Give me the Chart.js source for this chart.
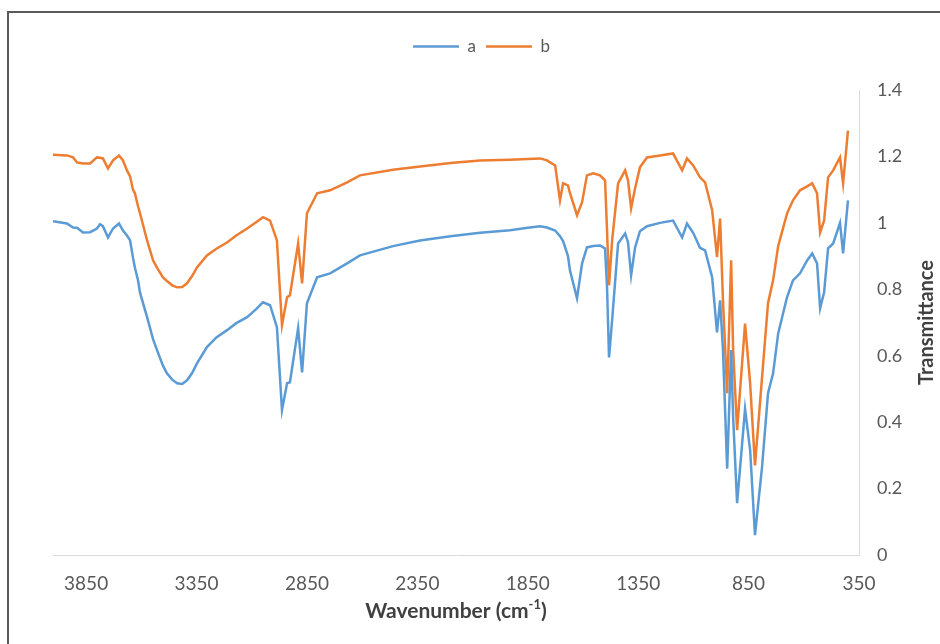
<!DOCTYPE html>
<html>
<head>
<meta charset="utf-8">
<script src="https://cdn.jsdelivr.net/npm/chart.js@4.4.1/dist/chart.umd.min.js"></script>
<style>
  html, body { margin: 0; padding: 0; background: #fff; overflow: hidden; }
  #frame { position: absolute; left: 7px; top: 11px; width: 2000px; height: 2000px; border: 2px solid #595959; }
  #wrap { position: absolute; left: 0; top: 0; width: 940px; height: 644px; }
</style>
</head>
<body>
<div id="frame"></div>
<div id="wrap"><canvas id="ftir" width="940" height="644"></canvas></div>
<script>
// wavenumber (cm-1) for every sample point
const wavenumbers = [
  4000, 3937, 3909, 3891, 3864, 3832, 3801, 3787, 3774, 3751,
  3728, 3701, 3683, 3665, 3651, 3638, 3629, 3615, 3606, 3574,
  3547, 3529, 3502, 3484, 3460, 3438, 3415, 3393, 3370, 3348,
  3303, 3260, 3212, 3170, 3121, 3080, 3049, 3017, 2986, 2963,
  2940, 2927, 2890, 2872, 2850, 2804, 2745, 2668, 2610, 2460,
  2338, 2200, 2066, 1930, 1850, 1794, 1763, 1726, 1704, 1690,
  1668, 1659, 1627, 1604, 1582, 1554, 1523, 1500, 1491, 1482,
  1468, 1441, 1409, 1396, 1382, 1364, 1342, 1310, 1251, 1192,
  1151, 1129, 1101, 1070, 1047, 1015, 993, 979, 966, 947,
  929, 920, 902, 866, 843, 821, 789, 762, 739, 716,
  676, 649, 617, 585, 562, 540, 526, 508, 490, 467,
  436, 422, 400
];

// series a (blue)
const seriesA = [
  1.005, 0.998, 0.986, 0.985, 0.971, 0.972, 0.983, 0.996, 0.99, 0.956,
  0.983, 0.998, 0.977, 0.962, 0.947, 0.896, 0.865, 0.827, 0.79, 0.716,
  0.65, 0.617, 0.57, 0.547, 0.528, 0.517, 0.515, 0.526, 0.548, 0.577,
  0.626, 0.655, 0.677, 0.698, 0.716, 0.74, 0.761, 0.752, 0.686, 0.436,
  0.517, 0.52, 0.683, 0.55, 0.758, 0.836, 0.848, 0.878, 0.902, 0.93,
  0.947, 0.96, 0.97, 0.978, 0.985, 0.99, 0.986, 0.977, 0.96, 0.945,
  0.9, 0.857, 0.773, 0.878, 0.926, 0.93, 0.932, 0.923, 0.806, 0.595,
  0.707, 0.938, 0.968, 0.941, 0.842, 0.926, 0.975, 0.99, 1.0, 1.007,
  0.956, 0.998, 0.97, 0.925, 0.917, 0.836, 0.67, 0.767, 0.617, 0.26,
  0.617, 0.415, 0.156, 0.44, 0.316, 0.06, 0.265, 0.487, 0.547, 0.667,
  0.776, 0.827, 0.848, 0.887, 0.908, 0.878, 0.743, 0.791, 0.923, 0.938,
  1.0, 0.908, 1.068
];

// series b (orange)
const seriesB = [
  1.205, 1.203, 1.197, 1.182, 1.179, 1.179, 1.197, 1.196, 1.194, 1.164,
  1.188, 1.203, 1.188, 1.158, 1.14, 1.10, 1.089, 1.05, 1.029, 0.947,
  0.887, 0.865, 0.836, 0.825, 0.812, 0.806, 0.807, 0.818, 0.84, 0.866,
  0.902, 0.922, 0.941, 0.962, 0.983, 1.002, 1.017, 1.007, 0.947, 0.692,
  0.776, 0.782, 0.938, 0.818, 1.029, 1.089, 1.098, 1.122, 1.143, 1.16,
  1.17, 1.18, 1.188, 1.19, 1.192, 1.194, 1.188, 1.173, 1.068, 1.119,
  1.113, 1.09, 1.023, 1.062, 1.143, 1.149, 1.143, 1.128, 0.977, 0.812,
  0.947, 1.119, 1.158, 1.128, 1.044, 1.104, 1.167, 1.197, 1.203, 1.209,
  1.158, 1.194, 1.173, 1.137, 1.122, 1.038, 0.897, 1.013, 0.767, 0.487,
  0.887, 0.617, 0.376, 0.697, 0.517, 0.27, 0.535, 0.758, 0.827, 0.93,
  1.028, 1.068, 1.098, 1.11, 1.119, 1.089, 0.971, 1.007, 1.137, 1.158,
  1.197, 1.119, 1.278
];

const xTickValues = [3850, 3350, 2850, 2350, 1850, 1350, 850, 350];
const yTickValues = [0, 0.2, 0.4, 0.6, 0.8, 1, 1.2, 1.4];

const toPoints = (ys) => wavenumbers.map((x, i) => ({ x: x, y: ys[i] }));

Chart.defaults.font.family = 'Lato, sans-serif';
Chart.defaults.color = '#595959';

// push the plot down below the legend, and pull the legend a bit left
const legendSpacer = {
  id: 'legendSpacer',
  beforeInit(chart) {
    const fit = chart.legend.fit;
    chart.legend.fit = function () {
      fit.bind(chart.legend)();
      this.height += 25;
    };
  },
  afterLayout(chart) {
    chart.legend.left = 23;
    chart.legend.adjustHitBoxes();
  }
};

// axis titles drawn by hand (y title reads bottom to top, cm-1 superscript)
const axisTitles = {
  id: 'axisTitles',
  afterDraw(chart) {
    const { ctx, chartArea } = chart;
    ctx.save();
    ctx.fillStyle = '#404040';
    ctx.textBaseline = 'middle';

    const big = 'bold 21px Lato, sans-serif';
    const small = 'bold 13px Lato, sans-serif';
    const pre = 'Wavenumber (cm';
    const sup = '-1';
    const post = ')';
    ctx.font = big;
    const w1 = ctx.measureText(pre).width;
    const w3 = ctx.measureText(post).width;
    ctx.font = small;
    const w2 = ctx.measureText(sup).width;
    let x = (chartArea.left + chartArea.right) / 2 - (w1 + w2 + w3) / 2;
    const y = 611;
    ctx.textAlign = 'left';
    ctx.font = big;
    ctx.fillText(pre, x, y);
    x += w1;
    ctx.font = small;
    ctx.fillText(sup, x, y - 6);
    x += w2;
    ctx.font = big;
    ctx.fillText(post, x, y);

    ctx.translate(927, (chartArea.top + chartArea.bottom) / 2);
    ctx.rotate(-Math.PI / 2);
    ctx.textAlign = 'center';
    ctx.font = 'bold 20px Lato, sans-serif';
    ctx.fillText('Transmittance', 0, 0);
    ctx.restore();
  }
};

new Chart(document.getElementById('ftir'), {
  type: 'line',
  data: {
    datasets: [
      {
        label: 'a',
        data: toPoints(seriesA),
        borderColor: '#5B9BD5',
        backgroundColor: '#5B9BD5',
        borderWidth: 2.5,
        pointRadius: 0,
        tension: 0
      },
      {
        label: 'b',
        data: toPoints(seriesB),
        borderColor: '#ED7D31',
        backgroundColor: '#ED7D31',
        borderWidth: 2.5,
        pointRadius: 0,
        tension: 0
      }
    ]
  },
  options: {
    responsive: false,
    animation: false,
    layout: { padding: { top: 28, left: 53, right: 0, bottom: 0 } },
    plugins: {
      legend: {
        position: 'top',
        labels: {
          usePointStyle: true,
          pointStyle: 'line',
          pointStyleWidth: 46,
          padding: 10,
          color: '#595959',
          font: { size: 17 }
        }
      },
      tooltip: { enabled: false }
    },
    scales: {
      x: {
        type: 'linear',
        min: 350,
        max: 4000,
        reverse: true,
        afterBuildTicks: (scale) => { scale.ticks = xTickValues.map((v) => ({ value: v })); },
        afterFit: (scale) => { scale.height = 89; },
        grid: { display: false, drawTicks: false },
        border: { display: true, color: '#d9d9d9', width: 1 },
        ticks: {
          maxRotation: 0,
          autoSkip: false,
          padding: 17,
          font: { size: 19 },
          color: '#595959',
          callback: (v) => String(v)
        }
      },
      y: {
        position: 'right',
        min: 0,
        max: 1.4,
        afterBuildTicks: (scale) => { scale.ticks = yTickValues.map((v) => ({ value: v })); },
        afterFit: (scale) => { scale.width = 81; },
        grid: { display: false, drawTicks: false },
        border: { display: true, color: '#d9d9d9', width: 1 },
        ticks: {
          padding: 18,
          font: { size: 18 },
          color: '#595959',
          callback: (v) => String(v)
        }
      }
    }
  },
  plugins: [legendSpacer, axisTitles]
});
</script>
</body>
</html>
